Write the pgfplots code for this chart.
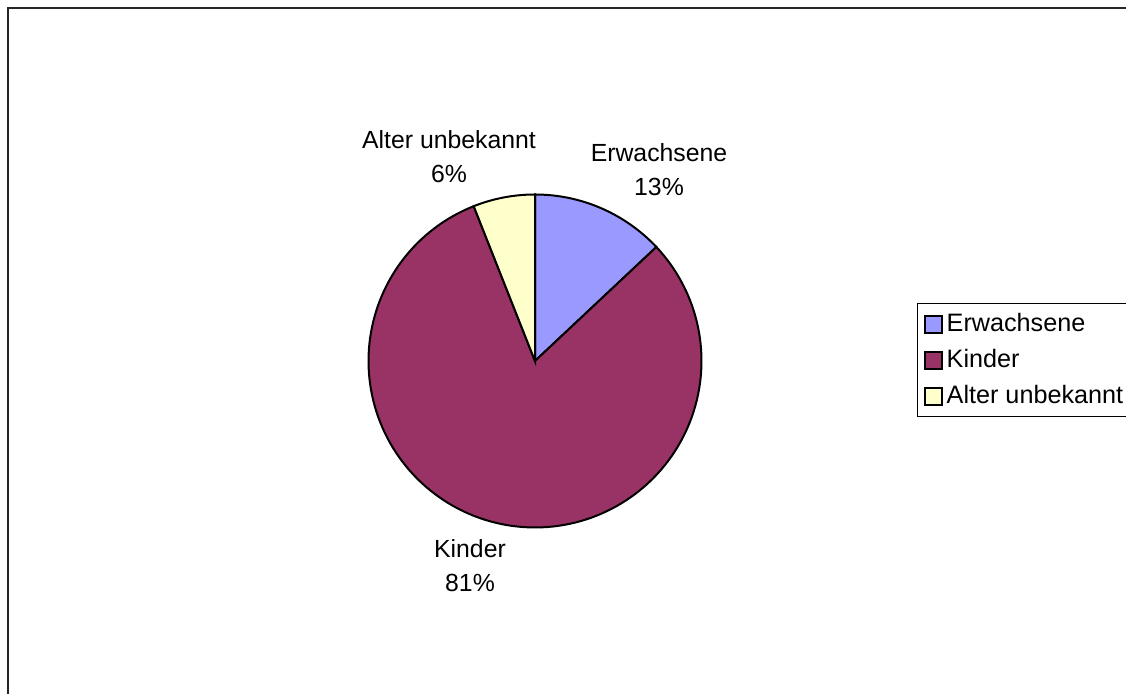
\documentclass[border=0pt]{standalone}
\usepackage{pgfplots}
\pgfplotsset{compat=1.18}
\usepackage{fontspec}
\setmainfont{Liberation Sans}

\definecolor{erw}{HTML}{9999FF}
\definecolor{kin}{HTML}{993366}
\definecolor{alt}{HTML}{FFFFCC}

% shares in percent
\def\vErw{13}
\def\vKin{81}
\def\vAlt{6}

\begin{document}
\begin{tikzpicture}[font=\fontsize{12.4}{17}\selectfont]
\begin{axis}[
  scale only axis,
  width=563pt, height=347pt,
  xmin=0, xmax=1126, ymin=0, ymax=694,
  hide axis,
  clip=false,
  legend cell align=left,
  legend style={at={(axis cs:917,391)}, anchor=north west,
    draw=black, line width=0.5pt, inner xsep=3pt, inner ysep=3pt,
    row sep=3.4pt, font=\fontsize{12.6}{15}\selectfont},
  legend image code/.code={\draw[#1, draw=black, line width=1pt] (0pt,-4.3pt) rectangle (8.6pt,4.3pt);},
]
% slices, clockwise from 12 o'clock
\addplot[fill=erw, draw=black, line width=1pt, samples=40, variable=\t,
  domain=90-3.6*\vErw:90]
  ({535+166.5*cos(\t)},{333+166.5*sin(\t)}) -- (axis cs:535,333) -- cycle;
\addlegendentry{Erwachsene}
\addplot[fill=kin, draw=black, line width=1pt, samples=150, variable=\t,
  domain=90-3.6*(\vErw+\vKin):90-3.6*\vErw]
  ({535+166.5*cos(\t)},{333+166.5*sin(\t)}) -- (axis cs:535,333) -- cycle;
\addlegendentry{Kinder}
\addplot[fill=alt, draw=black, line width=1pt, samples=15, variable=\t,
  domain=90-3.6*(\vErw+\vKin+\vAlt):90-3.6*(\vErw+\vKin)]
  ({535+166.5*cos(\t)},{333+166.5*sin(\t)}) -- (axis cs:535,333) -- cycle;
\addlegendentry{Alter unbekannt}

\node[align=center] at (axis cs:659,524) {Erwachsene\\\vErw\%};
\node[align=center] at (axis cs:470,128) {Kinder\\\vKin\%};
\node[align=center] at (axis cs:449,537) {Alter unbekannt\\\vAlt\%};

% chart frame
\draw[black!85, line width=1.1pt] (axis cs:8,0) -- (axis cs:8,686) -- (axis cs:1140,686);
\end{axis}
\pgfresetboundingbox
\path (0,0) rectangle (563pt,347pt);
\end{tikzpicture}
\end{document}
